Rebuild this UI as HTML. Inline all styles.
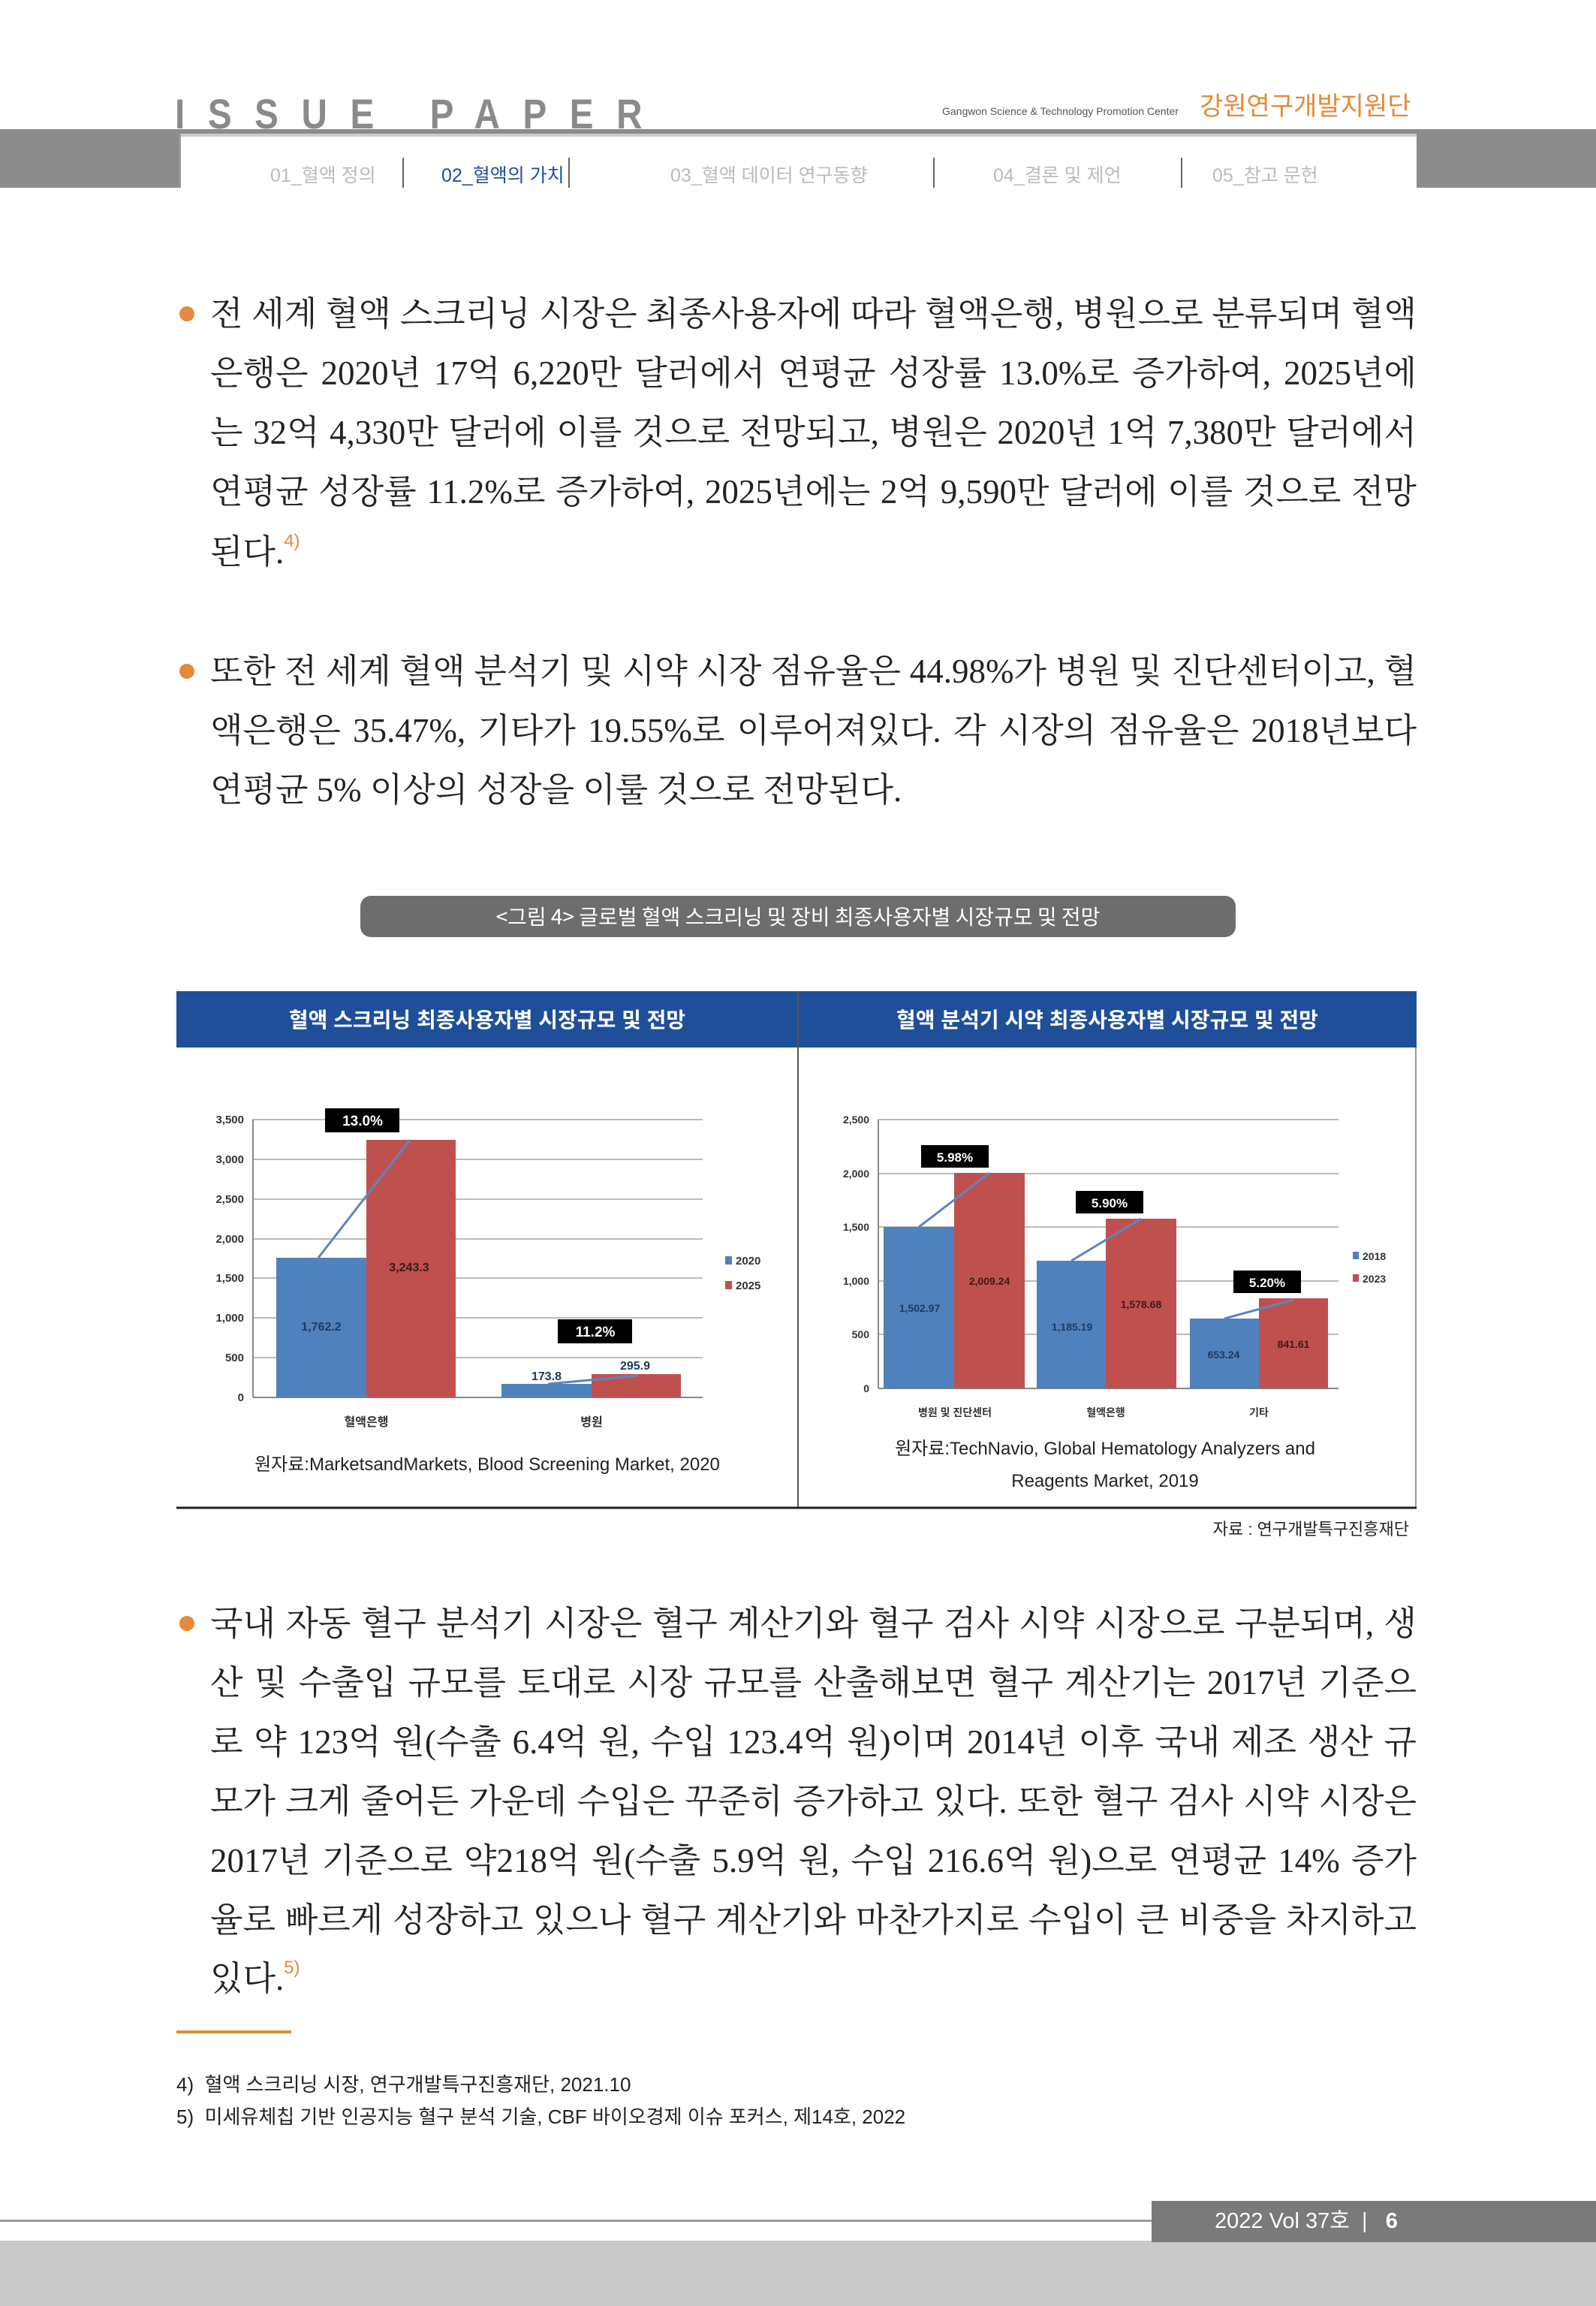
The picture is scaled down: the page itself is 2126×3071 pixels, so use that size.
<!DOCTYPE html>
<html><head><meta charset="utf-8"><style>
*{margin:0;padding:0;box-sizing:border-box}
body{width:2126px;height:3071px;position:relative;background:#fff;overflow:hidden;font-family:"Liberation Sans","Noto Sans CJK KR",sans-serif}
.a{position:absolute}
.ln{position:absolute;left:280px;width:1607px;font-family:"Liberation Serif","Noto Serif CJK KR","Noto Serif CJK SC",serif;font-size:45px;color:#222;text-align:justify;text-align-last:justify;white-space:nowrap;line-height:60px;height:60px}
.ln.l{text-align-last:left}
.bul{position:absolute;left:239px;width:20px;height:20px;border-radius:50%;background:#e48a3a}
sup{font-size:24px;color:#e48a3a;font-family:"Liberation Sans",sans-serif;position:relative;top:-22px;vertical-align:baseline;line-height:0}
.nav{position:absolute;top:214px;font-size:25px;color:#bbb;font-family:"Liberation Sans","Noto Sans CJK KR",sans-serif}
</style></head><body>
<!-- header -->
<div class="a" style="left:233px;top:122px;font-size:56px;letter-spacing:36px;color:#8a8a8a;font-family:'Liberation Sans',sans-serif;line-height:60px;font-weight:bold;transform:scaleX(0.85);transform-origin:left">ISSUE&nbsp;PAPER</div>
<div class="a" style="left:1255px;top:140px;font-size:14px;color:#555">Gangwon Science &amp; Technology Promotion Center</div>
<div class="a" style="left:1598px;top:114px;font-size:34px;color:#e48a3a;font-family:'Noto Sans CJK KR',sans-serif">강원연구개발지원단</div>
<div class="a" style="left:0;top:172px;width:2126px;height:6px;background:#8c8c8c"></div>
<div class="a" style="left:0;top:172px;width:240px;height:78px;background:#8c8c8c"></div>
<div class="a" style="left:1887px;top:172px;width:239px;height:78px;background:#8c8c8c"></div>
<div class="a" style="left:240px;top:178px;width:1647px;height:4px;background:#ccc"></div>
<div class="a" style="left:238px;top:178px;width:3px;height:72px;background:#999"></div>
<div class="nav" style="left:360px">01_혈액 정의</div>
<div class="a" style="left:536px;top:210px;width:2px;height:40px;background:#666"></div>
<div class="nav" style="left:588px;color:#1f4f99">02_혈액의 가치</div>
<div class="a" style="left:757px;top:210px;width:2px;height:40px;background:#666"></div>
<div class="nav" style="left:893px">03_혈액 데이터 연구동향</div>
<div class="a" style="left:1243px;top:210px;width:2px;height:40px;background:#666"></div>
<div class="nav" style="left:1323px">04_결론 및 제언</div>
<div class="a" style="left:1573px;top:210px;width:2px;height:40px;background:#666"></div>
<div class="nav" style="left:1615px">05_참고 문헌</div>

<!-- para 1 -->
<div class="bul" style="top:408px"></div>
<div class="ln" style="top:388px">전 세계 혈액 스크리닝 시장은 최종사용자에 따라 혈액은행, 병원으로 분류되며 혈액</div>
<div class="ln" style="top:467px">은행은 2020년 17억 6,220만 달러에서 연평균 성장률 13.0%로 증가하여, 2025년에</div>
<div class="ln" style="top:546px">는 32억 4,330만 달러에 이를 것으로 전망되고, 병원은 2020년 1억 7,380만 달러에서</div>
<div class="ln" style="top:625px">연평균 성장률 11.2%로 증가하여, 2025년에는 2억 9,590만 달러에 이를 것으로 전망</div>
<div class="ln l" style="top:705px">된다.<sup>4)</sup></div>
<!-- para 2 -->
<div class="bul" style="top:884px"></div>
<div class="ln" style="top:864px">또한 전 세계 혈액 분석기 및 시약 시장 점유율은 44.98%가 병원 및 진단센터이고, 혈</div>
<div class="ln" style="top:943px">액은행은 35.47%, 기타가 19.55%로 이루어져있다. 각 시장의 점유율은 2018년보다</div>
<div class="ln l" style="top:1022px">연평균 5% 이상의 성장을 이룰 것으로 전망된다.</div>

<!-- caption -->
<div class="a" style="left:480px;top:1193px;width:1166px;height:55px;border-radius:14px;background:#6d6d6d;color:#fff;font-size:28px;text-align:center;line-height:55px;font-family:'Noto Sans CJK KR',sans-serif">&lt;그림 4&gt; 글로벌 혈액 스크리닝 및 장비 최종사용자별 시장규모 및 전망</div>

<!-- chart box -->
<svg class="a" style="left:0;top:0" width="2126" height="2100" font-family="Liberation Sans, Noto Sans CJK KR, sans-serif">
<rect x="235" y="1320" width="1652" height="75" fill="#1f4f99"/>
<line x1="1063" y1="1320" x2="1063" y2="2008" stroke="#555" stroke-width="2"/>
<line x1="1886" y1="1395" x2="1886" y2="2008" stroke="#999" stroke-width="2"/>
<line x1="235" y1="2008" x2="1887" y2="2008" stroke="#222" stroke-width="3"/>
<text x="649" y="1368" fill="#fff" font-size="28" font-weight="bold" text-anchor="middle">혈액 스크리닝 최종사용자별 시장규모 및 전망</text>
<text x="1475" y="1368" fill="#fff" font-size="28" font-weight="bold" text-anchor="middle">혈액 분석기 시약 최종사용자별 시장규모 및 전망</text>
<!-- left chart -->
<g stroke="#bbb" stroke-width="2">
<line x1="337" y1="1491" x2="936" y2="1491"/><line x1="337" y1="1544" x2="936" y2="1544"/><line x1="337" y1="1597" x2="936" y2="1597"/><line x1="337" y1="1650" x2="936" y2="1650"/><line x1="337" y1="1702" x2="936" y2="1702"/><line x1="337" y1="1755" x2="936" y2="1755"/><line x1="337" y1="1808" x2="936" y2="1808"/>
</g>
<line x1="337" y1="1491" x2="337" y2="1861" stroke="#888" stroke-width="2"/>
<line x1="337" y1="1861" x2="936" y2="1861" stroke="#888" stroke-width="2"/>
<g font-size="15" font-weight="bold" fill="#333" text-anchor="end">
<text x="325" y="1496">3,500</text><text x="325" y="1549">3,000</text><text x="325" y="1602">2,500</text><text x="325" y="1655">2,000</text><text x="325" y="1707">1,500</text><text x="325" y="1760">1,000</text><text x="325" y="1813">500</text><text x="325" y="1866">0</text>
</g>
<rect x="368" y="1675" width="120" height="186" fill="#4f81bd"/>
<rect x="488" y="1518" width="119" height="343" fill="#c0504d"/>
<rect x="668" y="1843" width="120" height="18" fill="#4f81bd"/>
<rect x="788" y="1830" width="119" height="31" fill="#c0504d"/>
<line x1="424" y1="1675" x2="546" y2="1518" stroke="#5b86c0" stroke-width="3"/>
<line x1="730" y1="1843" x2="850" y2="1832" stroke="#5b86c0" stroke-width="3"/>
<rect x="433" y="1476" width="99" height="32" fill="#000"/><text x="483" y="1499" fill="#fff" font-size="19" font-weight="bold" text-anchor="middle">13.0%</text>
<rect x="743" y="1757" width="99" height="32" fill="#000"/><text x="793" y="1780" fill="#fff" font-size="19" font-weight="bold" text-anchor="middle">11.2%</text>
<g font-size="16" font-weight="bold" fill="#1f3a60" text-anchor="middle">
<text x="428" y="1772">1,762.2</text><text x="545" y="1693" fill="#3a1a1a">3,243.3</text><text x="728" y="1838">173.8</text><text x="846" y="1824">295.9</text>
<text x="488" y="1899" fill="#333">혈액은행</text><text x="788" y="1899" fill="#333">병원</text>
</g>
<rect x="966" y="1673" width="9" height="11" fill="#4f81bd"/><text x="980" y="1684" font-size="15" font-weight="bold" fill="#333">2020</text>
<rect x="966" y="1706" width="9" height="11" fill="#c0504d"/><text x="980" y="1717" font-size="15" font-weight="bold" fill="#333">2025</text>
<text x="649" y="1958" font-size="24" fill="#222" text-anchor="middle">원자료:MarketsandMarkets, Blood Screening Market, 2020</text>
<!-- right chart -->
<g stroke="#bbb" stroke-width="2">
<line x1="1170" y1="1491" x2="1783" y2="1491"/><line x1="1170" y1="1563" x2="1783" y2="1563"/><line x1="1170" y1="1634" x2="1783" y2="1634"/><line x1="1170" y1="1706" x2="1783" y2="1706"/><line x1="1170" y1="1777" x2="1783" y2="1777"/>
</g>
<line x1="1170" y1="1491" x2="1170" y2="1849" stroke="#888" stroke-width="2"/>
<line x1="1170" y1="1849" x2="1783" y2="1849" stroke="#888" stroke-width="2"/>
<g font-size="14" font-weight="bold" fill="#333" text-anchor="end">
<text x="1158" y="1496">2,500</text><text x="1158" y="1568">2,000</text><text x="1158" y="1639">1,500</text><text x="1158" y="1711">1,000</text><text x="1158" y="1782">500</text><text x="1158" y="1854">0</text>
</g>
<rect x="1177" y="1634" width="94" height="215" fill="#4f81bd"/>
<rect x="1271" y="1562" width="94" height="287" fill="#c0504d"/>
<rect x="1381" y="1679" width="92" height="170" fill="#4f81bd"/>
<rect x="1473" y="1623" width="94" height="226" fill="#c0504d"/>
<rect x="1585" y="1756" width="92" height="93" fill="#4f81bd"/>
<rect x="1677" y="1729" width="92" height="120" fill="#c0504d"/>
<g stroke="#5b86c0" stroke-width="3"><line x1="1224" y1="1634" x2="1318" y2="1562"/><line x1="1427" y1="1679" x2="1520" y2="1623"/><line x1="1631" y1="1756" x2="1723" y2="1731"/></g>
<rect x="1227" y="1525" width="90" height="30" fill="#000"/><text x="1272" y="1547" fill="#fff" font-size="17" font-weight="bold" text-anchor="middle">5.98%</text>
<rect x="1433" y="1586" width="90" height="30" fill="#000"/><text x="1478" y="1608" fill="#fff" font-size="17" font-weight="bold" text-anchor="middle">5.90%</text>
<rect x="1643" y="1692" width="90" height="30" fill="#000"/><text x="1688" y="1714" fill="#fff" font-size="17" font-weight="bold" text-anchor="middle">5.20%</text>
<g font-size="14" font-weight="bold" fill="#1f3a60" text-anchor="middle">
<text x="1225" y="1747">1,502.97</text><text x="1318" y="1711" fill="#3a1a1a">2,009.24</text>
<text x="1428" y="1772">1,185.19</text><text x="1520" y="1742" fill="#3a1a1a">1,578.68</text>
<text x="1630" y="1809">653.24</text><text x="1723" y="1795" fill="#3a1a1a">841.61</text>
<text x="1272" y="1886" fill="#333">병원 및 진단센터</text><text x="1473" y="1886" fill="#333">혈액은행</text><text x="1677" y="1886" fill="#333">기타</text>
</g>
<rect x="1802" y="1667" width="8" height="10" fill="#4f81bd"/><text x="1815" y="1678" font-size="14" font-weight="bold" fill="#333">2018</text>
<rect x="1802" y="1697" width="8" height="10" fill="#c0504d"/><text x="1815" y="1708" font-size="14" font-weight="bold" fill="#333">2023</text>
<text x="1472" y="1937" font-size="24" fill="#222" text-anchor="middle">원자료:TechNavio, Global Hematology Analyzers and</text>
<text x="1472" y="1980" font-size="24" fill="#222" text-anchor="middle">Reagents Market, 2019</text>
<text x="1877" y="2044" font-size="22" fill="#222" text-anchor="end">자료 : 연구개발특구진흥재단</text>
</svg>

<!-- para 3 -->
<div class="bul" style="top:2152px"></div>
<div class="ln" style="top:2132px">국내 자동 혈구 분석기 시장은 혈구 계산기와 혈구 검사 시약 시장으로 구분되며, 생</div>
<div class="ln" style="top:2211px">산 및 수출입 규모를 토대로 시장 규모를 산출해보면 혈구 계산기는 2017년 기준으</div>
<div class="ln" style="top:2290px">로 약 123억 원(수출 6.4억 원, 수입 123.4억 원)이며 2014년 이후 국내 제조 생산 규</div>
<div class="ln" style="top:2369px">모가 크게 줄어든 가운데 수입은 꾸준히 증가하고 있다. 또한 혈구 검사 시약 시장은</div>
<div class="ln" style="top:2448px">2017년 기준으로 약218억 원(수출 5.9억 원, 수입 216.6억 원)으로 연평균 14% 증가</div>
<div class="ln" style="top:2527px">율로 빠르게 성장하고 있으나 혈구 계산기와 마찬가지로 수입이 큰 비중을 차지하고</div>
<div class="ln l" style="top:2605px">있다.<sup>5)</sup></div>

<div class="a" style="left:235px;top:2704px;width:153px;height:4px;background:#e48a3a"></div>
<div class="a" style="left:235px;top:2756px;font-size:26px;color:#222">4)&nbsp; 혈액 스크리닝 시장, 연구개발특구진흥재단, 2021.10</div>
<div class="a" style="left:235px;top:2799px;font-size:26px;color:#222">5)&nbsp; 미세유체칩 기반 인공지능 혈구 분석 기술, CBF 바이오경제 이슈 포커스, 제14호, 2022</div>

<!-- footer -->
<div class="a" style="left:0;top:2956px;width:2126px;height:3px;background:#999"></div>
<div class="a" style="left:0;top:2984px;width:2126px;height:87px;background:#c9c9c9"></div>
<div class="a" style="left:1534px;top:2931px;width:592px;height:55px;background:#7a7a7a;color:#fff;font-size:29px;line-height:55px;padding-left:84px">2022 Vol 37호 &nbsp;|&nbsp;&nbsp; <b>6</b></div>
</body></html>
